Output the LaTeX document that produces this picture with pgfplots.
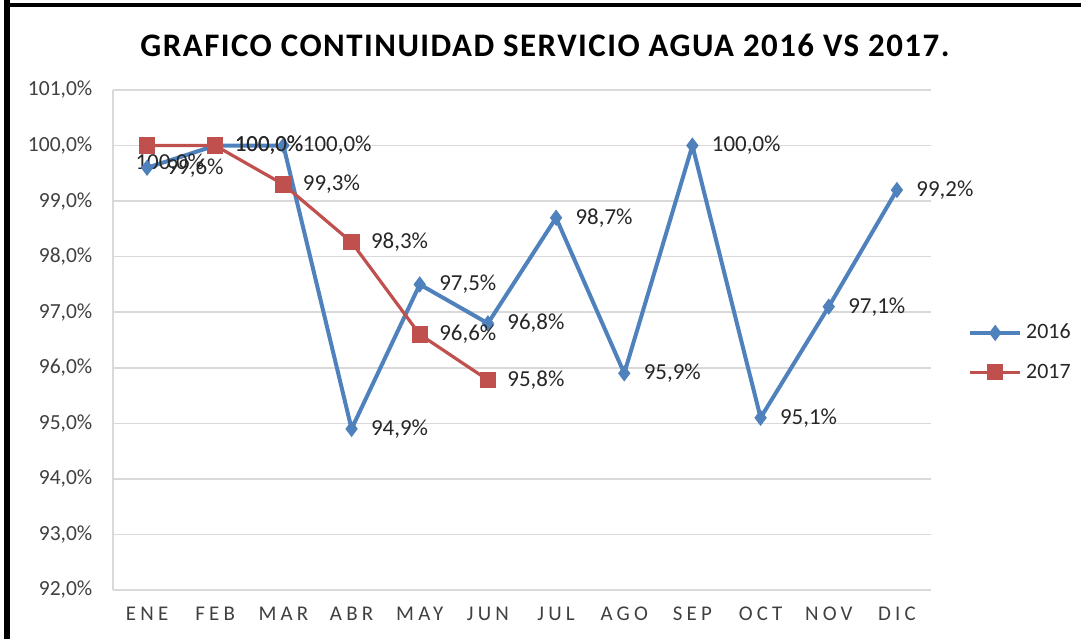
\documentclass[border=0pt]{standalone}
\usepackage{fontspec}
\setmainfont{Carlito}
\newfontfamily\titlefont[LetterSpace=4.5]{Carlito}
\newfontfamily\xfont[LetterSpace=20]{Carlito}
\usepackage{pgfplots}
\pgfplotsset{compat=1.18}
\definecolor{sblue}{HTML}{4F81BD}
\definecolor{sred}{HTML}{C0504D}
\definecolor{ticktxt}{HTML}{404040}
\definecolor{lbltxt}{HTML}{262626}
\definecolor{gridc}{HTML}{D9D9D9}
\begin{document}
\begin{tikzpicture}
\useasboundingbox (-56.5bp,-24.5bp) rectangle (484bp,295bp);
\fill[black] (-54.5bp,-24.5bp) rectangle (-51.5bp,295bp);
\fill[black] (-54.5bp,291.5bp) rectangle (484bp,293.5bp);
\node[font=\titlefont\bfseries\fontsize{16.5}{18}\selectfont, text=black] at (216bp,272.5bp) {GRAFICO CONTINUIDAD SERVICIO AGUA 2016 VS 2017.};
\begin{axis}[
  at={(0,0)}, anchor=south west,
  scale only axis, width=409bp, height=250bp,
  xmin=-0.5, xmax=11.5, ymin=92, ymax=101,
  xtick={0,1,2,3,4,5,6,7,8,9,10,11},
  xticklabels={ENE,FEB,MAR,ABR,MAY,JUN,JUL,AGO,SEP,OCT,NOV,DIC},
  ytick={92,93,94,95,96,97,98,99,100,101},
  yticklabel={\pgfmathprintnumber[fixed,fixed zerofill,precision=1,use comma]{\tick}\%},
  /pgf/number format/assume math mode=true,
  ymajorgrids, grid style={draw=gridc, line width=0.75bp},
  axis lines*=left, axis line style={draw=gridc, line width=0.75bp},
  major tick length=0pt,
  yticklabel style={font=\fontsize{10.8}{12}\selectfont, text=ticktxt, xshift=-6.8bp},
  xticklabel style={font=\xfont\fontsize{10.5}{12}\selectfont, text=ticktxt, yshift=-5bp},
  clip=false,
  nodes near coords, point meta=explicit symbolic,
  nodes near coords style={anchor=west, xshift=6.2bp, font=\fontsize{11.5}{13}\selectfont, text=lbltxt},
  legend style={at={(1.045,0.475)}, anchor=west, draw=none, fill=none,
     font=\fontsize{11}{12}\selectfont, text=lbltxt, row sep=7bp, inner sep=0pt},
  legend cell align=left,
  legend image code/.code={\draw[mark repeat=2,mark phase=2,#1] plot coordinates {(0bp,0bp)(12.5bp,0bp)(25bp,0bp)};},
]
\addplot[sblue, line width=2bp, mark=diamond*, mark size=3.7bp, mark options={fill=sblue, draw=sblue, line width=0.5bp}]
coordinates {
(0,99.6) [99,6\%]
(1,100.0) [100,0\%]
(2,100.0) [100,0\%]
(3,94.9) [94,9\%]
(4,97.5) [97,5\%]
(5,96.8) [96,8\%]
(6,98.7) [98,7\%]
(7,95.9) [95,9\%]
(8,100.0) [100,0\%]
(9,95.1) [95,1\%]
(10,97.1) [97,1\%]
(11,99.2) [99,2\%]
};
\addlegendentry{2016}
\addplot[sred, line width=1.6bp, mark=square*, mark size=3.8bp, mark options={fill=sred, draw=sred, line width=0.5bp}]
coordinates {
(0,100.0) []
(1,100.0) [100,0\%]
(2,99.3) [99,3\%]
(3,98.26) [98,3\%]
(4,96.6) [96,6\%]
(5,95.78) [95,8\%]
};
\addlegendentry{2017}
\node[anchor=west, xshift=-9.3bp, yshift=-9bp, font=\fontsize{11.5}{13}\selectfont, text=lbltxt] at (axis cs:0,100) {100,0\%};
\end{axis}
\end{tikzpicture}
\end{document}
